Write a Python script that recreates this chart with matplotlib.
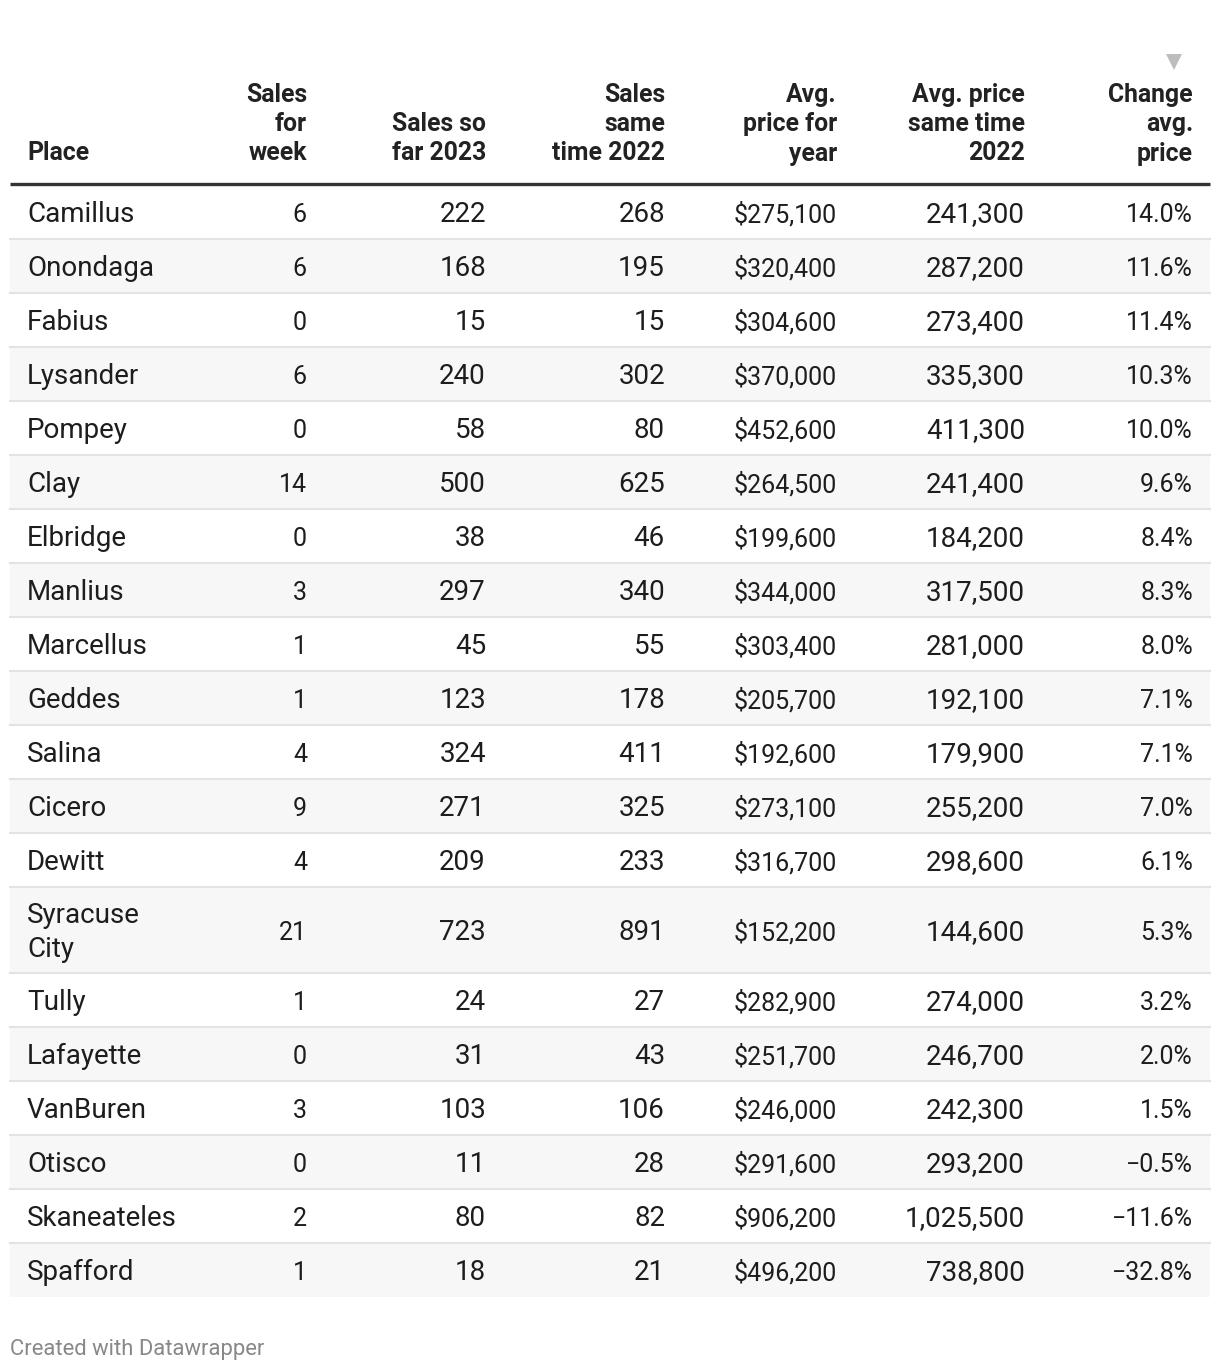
import matplotlib
matplotlib.use("Agg")
import matplotlib.pyplot as plt
from matplotlib.patches import Rectangle

# Data
places = ["Camillus", "Onondaga", "Fabius", "Lysander", "Pompey", "Clay", "Elbridge",
          "Manlius", "Marcellus", "Geddes", "Salina", "Cicero", "Dewitt", "Syracuse\nCity",
          "Tully", "Lafayette", "VanBuren", "Otisco", "Skaneateles", "Spafford"]
sales_week = [6, 6, 0, 6, 0, 14, 0, 3, 1, 1, 4, 9, 4, 21, 1, 0, 3, 0, 2, 1]
sales_2023 = [222, 168, 15, 240, 58, 500, 38, 297, 45, 123, 324, 271, 209, 723, 24, 31, 103, 11, 80, 18]
sales_2022 = [268, 195, 15, 302, 80, 625, 46, 340, 55, 178, 411, 325, 233, 891, 27, 43, 106, 28, 82, 21]
price_year = [275100, 320400, 304600, 370000, 452600, 264500, 199600, 344000, 303400, 205700,
              192600, 273100, 316700, 152200, 282900, 251700, 246000, 291600, 906200, 496200]
price_2022 = [241300, 287200, 273400, 335300, 411300, 241400, 184200, 317500, 281000, 192100,
              179900, 255200, 298600, 144600, 274000, 246700, 242300, 293200, 1025500, 738800]
change_pct = [14.0, 11.6, 11.4, 10.3, 10.0, 9.6, 8.4, 8.3, 8.0, 7.1, 7.1, 7.0, 6.1, 5.3,
              3.2, 2.0, 1.5, -0.5, -11.6, -32.8]

headers = ["Place", "Sales\nfor\nweek", "Sales so\nfar 2023", "Sales\nsame\ntime 2022",
           "Avg.\nprice for\nyear", "Avg. price\nsame time\n2022", "Change\navg.\nprice"]

FONT = ["Roboto", "DejaVu Sans"]
W, H = 1220, 1372

fig = plt.figure(figsize=(W / 100, H / 100), dpi=100)
ax = fig.add_axes([0, 0, 1, 1])
ax.set_xlim(0, W)
ax.set_ylim(H, 0)
ax.axis("off")

# column anchors (px)
col_x = [27, 307, 486, 665, 837, 1025, 1193]
big, small = 20, 18

# header
for i, h in enumerate(headers):
    ax.text(col_x[i], 165.5, h, ha="left" if i == 0 else "right", va="bottom",
            fontsize=17.8, fontweight="bold", family=FONT, color="#222222",
            linespacing=1.28)
ax.plot([1174], [62], marker="v", markersize=12, color="#bdbdbd", markeredgewidth=0)
ax.plot([10, 1210], [183.5, 183.5], color="#333333", lw=2.4, solid_capstyle="butt")


def fmt_pct(v):
    s = f"{abs(v):.1f}%"
    return ("\u2212" + s) if v < 0 else s


y = 185
for r in range(len(places)):
    h = 86 if "\n" in places[r] else 54
    if r % 2 == 1:
        ax.add_patch(Rectangle((10, y), 1200, h, facecolor="#f7f7f7", edgecolor="none"))
    if r < len(places) - 1:
        ax.plot([10, 1210], [y + h, y + h], color="#e3e3e3", lw=1.5)
    yc = y + h / 2 + 2.5
    cells = [
        (places[r], big),
        (str(sales_week[r]), small),
        (str(sales_2023[r]), big),
        (str(sales_2022[r]), big),
        (f"${price_year[r]:,}", small),
        (f"{price_2022[r]:,}", big),
        (fmt_pct(change_pct[r]), small),
    ]
    for i, (txt, fs) in enumerate(cells):
        ax.text(col_x[i], yc, txt, ha="left" if i == 0 else "right", va="center",
                fontsize=fs, family=FONT, color="#1d1d1d", linespacing=1.3)
    y += h

ax.text(10, 1350, "Created with Datawrapper", ha="left", va="center",
        fontsize=15.8, family=FONT, color="#888888")

fig.savefig("out.png", dpi=100)
